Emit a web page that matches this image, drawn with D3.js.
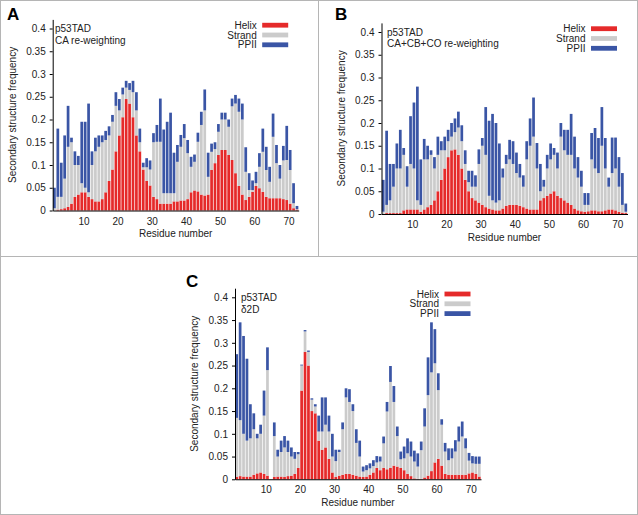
<!doctype html>
<html lang='en'>
<head>
<meta charset='utf-8'>
<title>Secondary structure frequency</title>
<script src='https://cdn.jsdelivr.net/npm/d3@7/dist/d3.min.js'></script>
<style>
  html, body { margin: 0; padding: 0; background: #fff; }
  svg { display: block; font-family: 'Liberation Sans', Arial, Helvetica, sans-serif; }
  .axis text { font-size: 10px; fill: #222; }
  .axis path, .axis line { stroke: #000; }
</style>
</head>
<body>
<div id='container'></div>
<script>
// residue numbers 1..72
const residues = [1,2,3,4,5,6,7,8,9,10,11,12,13,14,15,16,17,18,19,20,21,22,23,24,25,26,27,28,29,30,31,32,33,34,35,36,
  37,38,39,40,41,42,43,44,45,46,47,48,49,50,51,52,53,54,55,56,57,58,59,60,61,62,63,64,65,66,67,68,69,70,71,72];

const seriesNames = ['Helix', 'Strand', 'PPII'];
const yTicks = [0, 0.05, 0.1, 0.15, 0.2, 0.25, 0.3, 0.35, 0.4];
const xTicks = [10, 20, 30, 40, 50, 60, 70];

// A: CA re-weighting
const helixA = [0,0.002,0.003,0.005,0.008,0.015,0.03,0.035,0.04,0.04,0.03,0.025,0.02,0.02,0.025,0.04,0.065,0.09,0.13,0.165,
  0.205,0.245,0.235,0.205,0.165,0.13,0.09,0.065,0.055,
  0.03,0.025,0.015,0.015,0.015,0.015,0.02,0.02,0.022,0.022,
  0.025,0.04,0.044,0.042,0.035,0.033,0.035,0.089,0.104,0.122,
  0.133,0.133,0.122,0.111,0.082,0.054,0.035,0.023,0.03,0.041,
  0.054,0.049,0.041,0.03,0.027,0.027,0.027,0.027,0.025,0.023,
  0.015,0.005,0.002];
const strandA = [0.005,0.028,0.027,0.065,0.132,0.135,0.07,0.065,0.02,0.01,0.01,0.075,0.11,0.12,0.125,0.115,0.1,0.105,0.1,0.055,
  0.05,0.025,0.03,0.055,0.055,0.02,0.005,0.03,0.035,
  0.12,0.126,0.136,0.023,0.023,0.023,0.018,0.087,0.118,0.137,
  0.101,0.056,0.063,0.109,0.153,0.187,0.039,0.04,0.031,0.051,
  0.067,0.067,0.062,0.118,0.153,0.163,0.165,0.062,0.015,0.004,
  0.006,0.047,0.088,0.059,0.036,0.135,0.077,0.043,0.085,0.088,
  0.074,0.011,0.001];
const ppiiA = [0.045,0.15,0.075,0.095,0.09,0.01,0.03,0.02,0.135,0.145,0.195,0.03,0.03,0.025,0.015,0.02,0.02,0.015,0.03,0.025,
  0.015,0.015,0.015,0.025,0.04,0.03,0.01,0.02,0.02,
  0.02,0.037,0.095,0.14,0.157,0.177,0.089,0.037,0.026,0.031,
  0.029,0.022,0.016,0.02,0.029,0.046,0.053,0.018,0.015,0.017,
  0.015,0.015,0.016,0.017,0.019,0.029,0.035,0.054,0.037,0.021,
  0.025,0.03,0.051,0.051,0.033,0.051,0.04,0.03,0.032,0.075,
  0.044,0.044,0.007];

// B: CA+CB+CO re-weighting
const helixB = [0,0.002,0.002,0.002,0.002,0.002,0.008,0.01,0.01,0.01,0.01,0.005,0.01,0.015,0.02,0.03,0.05,0.075,0.1,0.125,
  0.14,0.142,0.13,0.1,0.075,0.05,0.035,0.03,0.025,0.02,0.015,0.012,0.01,0.008,0.008,0.012,0.018,0.02,0.02,0.02,
  0.018,0.015,0.012,0.01,0.01,0.01,0.03,0.035,0.04,0.045,0.05,0.04,0.035,0.03,0.025,0.02,0.012,0.008,0.006,0.005,
  0.006,0.008,0.008,0.006,0.006,0.008,0.01,0.01,0.008,0.005,0.003,0.002];
const strandB = [0.005,0.018,0.028,0.058,0.098,0.098,0.122,0.05,0.1,0.09,0.02,0.015,0.11,0.105,0.11,0.07,0.08,0.065,0.04,0.035,
  0.03,0.038,0.06,0.06,0.035,0.02,0.025,0.03,0.085,0.13,0.115,0.028,0.02,0.017,0.022,0.068,0.092,0.1,0.09,0.07,
  0.062,0.045,0.108,0.14,0.16,0.09,0.02,0.025,0.06,0.075,0.08,0.06,0.135,0.11,0.105,0.11,0.088,0.072,0.054,0.015,
  0.014,0.112,0.092,0.084,0.144,0.092,0.05,0.08,0.092,0.055,0.017,0.003];
const ppiiB = [0.07,0.163,0.08,0.05,0.055,0.085,0.015,0.045,0.105,0.145,0.25,0.1,0.045,0.03,0.01,0.025,0.04,0.02,0.03,0.025,
  0.03,0.03,0.035,0.035,0.03,0.025,0.035,0.025,0.032,0.017,0.105,0.165,0.19,0.175,0.125,0.02,0.02,0.043,0.05,0.045,
  0.03,0.025,0.04,0.06,0.086,0.056,0.06,0.015,0.03,0.035,0.015,0.035,0.03,0.045,0.055,0.09,0.07,0.045,0.035,0.026,
  0.026,0.058,0.089,0.077,0.085,0.067,0.02,0.078,0.068,0.065,0.07,0.018];

// C: delta2D (residue 11 has no value)
const helixC = [0.005,0.007,0.006,0.006,0.006,0.01,0.013,0.015,0.012,0.008,0,0.005,0.006,0.006,0.005,0.007,0.008,0.012,0.025,0.195,
  0.28,0.25,0.15,0.145,0.085,0.065,0.07,0.045,0.015,0.005,0.008,0.01,0.012,0.012,0.01,0.008,0.006,
  0.005,0.006,0.01,
  0.015,0.025,0.02,0.025,0.022,0.025,0.03,0.028,0.025,0.02,
  0.012,0.007,0.002,0.001,0.001,0.004,0.008,0.018,0.037,0.045,
  0.03,0.012,0.01,0.01,0.01,0.01,0.01,0.01,0.013,0.015,
  0.012,0.006];
const strandC = [0.13,0.123,0.094,0.079,0.084,0.1,0.077,0.085,0.128,0.232,0,0.09,0.044,0.054,0.065,0.053,0.042,0.033,0.03,0.055,
  0.045,0.03,0.025,0.015,0.02,0.04,0.05,0.06,0.035,0.035,0.052,0.1,0.168,0.158,0.14,0.072,0.044,
  0.012,0.014,0.014,
  0.014,0.012,0.019,0.054,0.127,0.189,0.14,0.067,0.019,0.026,
  0.045,0.043,0.037,0.027,0.063,0.112,0.177,0.217,0.218,0.151,
  0.09,0.049,0.032,0.036,0.051,0.073,0.084,0.058,0.028,0.02,
  0.022,0.028];
const ppiiC = [0.14,0.215,0.215,0.18,0.075,0.035,0.01,0.02,0.055,0.05,0,0.03,0.015,0.025,0.025,0.025,0.02,0.015,0.005,0.002,
  0.003,0.003,0.003,0.005,0.035,0.075,0.06,0.035,0.05,0.025,0.005,0.015,0.02,0.028,0.015,0.03,0.035,
  0.011,0.011,0.011,
  0.013,0.014,0.011,0.015,0.021,0.035,0.035,0.021,0.017,0.026,
  0.033,0.033,0.024,0.029,0.019,0.04,0.083,0.11,0.075,0.037,
  0.012,0.019,0.026,0.022,0.025,0.033,0.033,0.022,0.017,0.016,
  0.016,0.016];

const colors = d3.scaleOrdinal().domain(seriesNames).range(['#e52a2a', '#cbcbcb', '#3a55a5']);

const W = 638, H = 515;
const svg = d3.select('#container').append('svg')
  .attr('width', W)
  .attr('height', H);

svg.append('rect').attr('width', W).attr('height', H).attr('fill', '#fff');

// frame and dividers
const frame = svg.append('g').attr('stroke', '#b5b5b5').attr('fill', 'none');
frame.append('rect').attr('x', 0.5).attr('y', 0.5).attr('width', W - 1).attr('height', H - 1);
frame.append('line').attr('x1', 0).attr('x2', W).attr('y1', 256.5).attr('y2', 256.5);
frame.append('line').attr('x1', 318.5).attr('x2', 318.5).attr('y1', 0).attr('y2', 256.5);

const panels = [
  {letter: 'A', lx: 7, ly: 20, left: 52.7, bottom: 210.5, note: ['p53TAD', 'CA re-weighting'], nx: 55, ylab: 16.3,
    helix: helixA, strand: strandA, ppii: ppiiA},
  {letter: 'B', lx: 335, ly: 20, left: 381.5, bottom: 214, note: ['p53TAD', 'CA+CB+CO re-weighting'], nx: 387, ylab: 345,
    helix: helixB, strand: strandB, ppii: ppiiB},
  {letter: 'C', lx: 186, ly: 287, left: 235, bottom: 479.3, note: ['p53TAD', '\u03b42D'], nx: 241, ylab: 197.6,
    helix: helixC, strand: strandC, ppii: ppiiC}
];

const plotW = 246;
const pxPerUnit = 455;
const yMax = 0.42;

panels.forEach((p) => {
  const g = svg.append('g');

  const x = d3.scaleLinear().domain([1, 73]).range([p.left, p.left + plotW]);
  const y = d3.scaleLinear().domain([0, yMax]).range([p.bottom, p.bottom - yMax * pxPerUnit]);

  const rows = residues.map((r, i) => ({residue: r, Helix: p.helix[i], Strand: p.strand[i], PPII: p.ppii[i]}));
  const stacked = d3.stack().keys(seriesNames)(rows);

  const step = x(2) - x(1);
  g.selectAll('g.layer')
    .data(stacked)
    .enter()
    .append('g')
    .attr('class', 'layer')
    .attr('fill', (d) => colors(d.key))
    .selectAll('rect')
    .data((d) => d)
    .enter()
    .append('rect')
    .attr('x', (d) => x(d.data.residue) + 0.35)
    .attr('y', (d) => y(d[1]))
    .attr('width', step - 0.7)
    .attr('height', (d) => Math.max(0, y(d[0]) - y(d[1])));

  // axes
  g.append('g')
    .attr('class', 'axis')
    .attr('transform', 'translate(0,' + p.bottom + ')')
    .call(d3.axisBottom(x).tickValues(xTicks).tickSizeInner(0).tickSizeOuter(0).tickPadding(7))
    .call((a) => a.select('.domain').attr('stroke-width', 1.1));

  g.append('g')
    .attr('class', 'axis')
    .attr('transform', 'translate(' + p.left + ',0)')
    .call(d3.axisLeft(y).tickValues(yTicks).tickFormat((d) => String(d)).tickSizeInner(3).tickSizeOuter(0).tickPadding(4));

  // axis titles
  g.append('text')
    .attr('transform', 'translate(' + p.ylab + ',' + y(yMax / 2) + ') rotate(-90)')
    .attr('text-anchor', 'middle')
    .attr('font-size', 10)
    .attr('fill', '#222')
    .text('Secondary structure frequency');

  g.append('text')
    .attr('x', p.left + plotW / 2)
    .attr('y', p.bottom + 26.8)
    .attr('text-anchor', 'middle')
    .attr('font-size', 10)
    .attr('fill', '#222')
    .text('Residue number');

  // panel letter
  svg.append('text')
    .attr('x', p.lx)
    .attr('y', p.ly)
    .attr('font-size', 17)
    .attr('font-weight', 'bold')
    .attr('fill', '#000')
    .text(p.letter);

  // note
  p.note.forEach((t, i) => {
    g.append('text')
      .attr('x', p.nx)
      .attr('y', y(0.4) + 3.6 + i * 11.7)
      .attr('font-size', 10)
      .attr('fill', '#222')
      .text(t);
  });

  // legend
  const legRight = p.left + plotW - 10.5;
  const legend = g.selectAll('.legend')
    .data(seriesNames)
    .enter()
    .append('g')
    .attr('class', 'legend')
    .attr('transform', (d, i) => 'translate(' + legRight + ',' + (y(0.4) - 3.3 + i * 9.8) + ')');

  legend.append('rect')
    .attr('x', -26)
    .attr('y', -2.4)
    .attr('width', 26)
    .attr('height', 4.8)
    .attr('fill', colors);

  legend.append('text')
    .attr('x', -31.5)
    .attr('y', 3.6)
    .attr('text-anchor', 'end')
    .attr('font-size', 10)
    .attr('fill', '#222')
    .text((d) => d);
});
</script>
</body>
</html>
